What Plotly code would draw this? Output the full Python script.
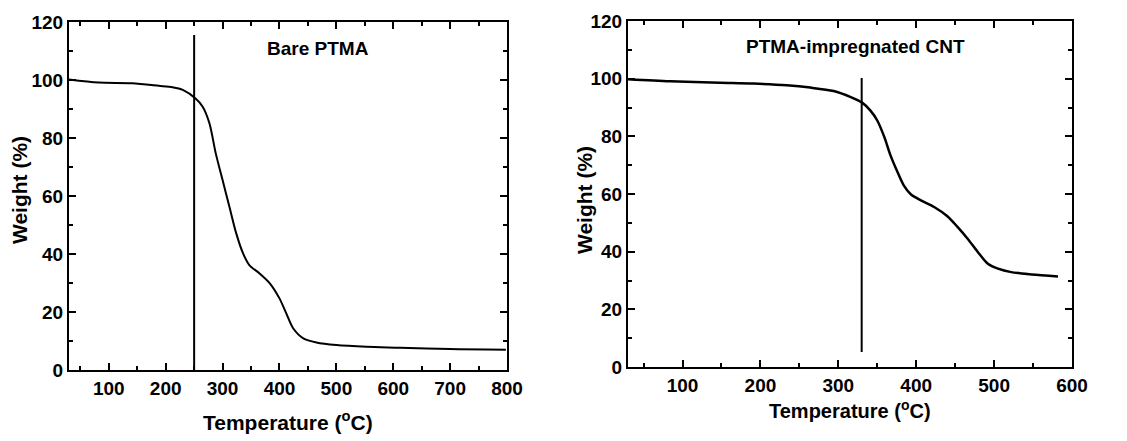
import plotly.graph_objects as go

# ---- Data: Bare PTMA ----
bare_temp = [29, 82, 141, 188, 212, 230, 252, 265, 277, 288, 300, 312, 324, 336, 347,
             365, 383, 400, 412, 424, 442, 465, 500, 553, 612, 700, 798]
bare_weight = [100.2, 99.1, 98.9, 98.0, 97.5, 96.6, 93.7, 90.8, 85.0, 74.7, 65.5, 56.3,
               47.1, 40.2, 36.2, 33.3, 29.9, 24.7, 19.5, 14.4, 10.9, 9.5, 8.6, 8.0, 7.7, 7.2, 7.0]
bare_marker_x = [250, 250]
bare_marker_y = [-1, 115.5]

# ---- Data: PTMA-impregnated CNT ----
cnt_temp = [30, 84, 148, 191, 234, 264, 294, 316, 331, 341, 350, 359, 367, 376, 384, 393,
            406, 423, 440, 453, 466, 479, 492, 505, 522, 548, 582]
cnt_weight = [99.8, 99.1, 98.6, 98.3, 97.7, 96.9, 95.7, 93.6, 91.6, 89.0, 85.5, 79.8, 73.4,
              67.6, 63.0, 59.9, 57.8, 55.5, 52.3, 48.6, 44.5, 39.9, 35.8, 34.1, 32.9, 32.1, 31.4]
cnt_marker_x = [330, 330]
cnt_marker_y = [5.2, 100.2]

x1_ticks = [100, 200, 300, 400, 500, 600, 700, 800]
x2_ticks = [100, 200, 300, 400, 500, 600]
y_ticks = [0, 20, 40, 60, 80, 100, 120]

FONT = "Liberation Sans, Arial, sans-serif"
W, H = 1127, 441

fig = go.Figure()
line_style = dict(color="black", width=2)
fig.add_trace(go.Scatter(x=bare_temp, y=bare_weight, mode="lines",
                         line=dict(color="black", width=2, shape="spline", smoothing=0.8),
                         xaxis="x", yaxis="y", showlegend=False))
fig.add_trace(go.Scatter(x=bare_marker_x, y=bare_marker_y, mode="lines", line=line_style,
                         xaxis="x", yaxis="y", showlegend=False, cliponaxis=False))
fig.add_trace(go.Scatter(x=cnt_temp, y=cnt_weight, mode="lines",
                         line=dict(color="black", width=2.5, shape="spline", smoothing=0.8),
                         xaxis="x2", yaxis="y2", showlegend=False))
fig.add_trace(go.Scatter(x=cnt_marker_x, y=cnt_marker_y, mode="lines", line=line_style,
                         xaxis="x2", yaxis="y2", showlegend=False))

def px_x(a, b):
    return [a / W, b / W]

def px_y(top, bottom):
    return [1 - bottom / H, 1 - top / H]

tickfont = dict(family=FONT, size=19, color="black", weight="bold")
common = dict(showline=True, linewidth=2, linecolor="black", mirror="allticks",
              ticks="inside", ticklen=7, tickwidth=2, tickcolor="black",
              showgrid=False, zeroline=False, tickfont=tickfont, automargin=False,
              minor=dict(ticks="inside", ticklen=4, tickwidth=2, tickcolor="black", showgrid=False))

fig.update_layout(
    width=W, height=H,
    margin=dict(l=0, r=0, t=0, b=0),
    paper_bgcolor="white", plot_bgcolor="white",
    xaxis=dict(domain=px_x(69, 507), range=[30, 800], tickvals=x1_ticks, anchor="y",
               minor_dtick=50, minor_tick0=0, **common),
    yaxis=dict(domain=px_y(22, 370), range=[0, 120], tickvals=y_ticks, anchor="x",
               minor_dtick=10, minor_tick0=0, **common),
    xaxis2=dict(domain=px_x(628, 1072), range=[30, 600], tickvals=x2_ticks, anchor="y2",
                minor_dtick=50, minor_tick0=0, **common),
    yaxis2=dict(domain=px_y(21, 367), range=[0, 120], tickvals=y_ticks, anchor="x2",
                minor_dtick=10, minor_tick0=0, **common),
)

title_font = dict(family=FONT, size=21, color="black")
ann = [
    dict(text="<b>Bare PTMA</b>", x=467, y=111, xref="x", yref="y", showarrow=False,
         font=dict(family=FONT, size=19, color="black")),
    dict(text="<b>PTMA-impregnated CNT</b>", x=322, y=111, xref="x2", yref="y2", showarrow=False,
         font=dict(family=FONT, size=19, color="black")),
    dict(text="<b>Temperature (<sup>o</sup>C)</b>", x=288 / W, y=1 - 421 / H, xref="paper", yref="paper",
         showarrow=False, xanchor="center", yanchor="middle", font=title_font),
    dict(text="<b>Temperature (<sup>o</sup>C)</b>", x=850 / W, y=1 - 409 / H, xref="paper", yref="paper",
         showarrow=False, xanchor="center", yanchor="middle", font=dict(family=FONT, size=20, color="black")),
    dict(text="<b>Weight (%)</b>", x=20 / W, y=1 - 190 / H, xref="paper", yref="paper", textangle=-90,
         showarrow=False, xanchor="center", yanchor="middle", font=title_font),
    dict(text="<b>Weight (%)</b>", x=584 / W, y=1 - 200 / H, xref="paper", yref="paper", textangle=-90,
         showarrow=False, xanchor="center", yanchor="middle", font=title_font),
]
fig.update_layout(annotations=ann)

fig.write_html("out.html")
